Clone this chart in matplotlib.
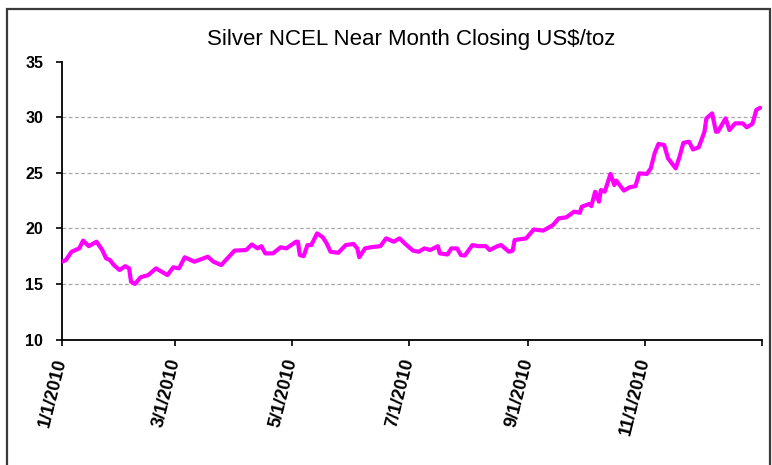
import matplotlib
matplotlib.use("Agg")
import matplotlib.pyplot as plt
import matplotlib.dates as mdates
from matplotlib.patches import Rectangle
import numpy as np

title = "Silver NCEL Near Month Closing US$/toz"

dates = [
    "2010-01-01", "2010-01-03", "2010-01-06", "2010-01-10", "2010-01-12", "2010-01-15",
    "2010-01-17", "2010-01-19", "2010-01-22", "2010-01-24", "2010-01-26", "2010-01-28",
    "2010-01-31", "2010-02-03", "2010-02-05", "2010-02-06", "2010-02-08", "2010-02-11",
    "2010-02-15", "2010-02-19", "2010-02-25", "2010-02-28", "2010-03-03", "2010-03-06",
    "2010-03-11", "2010-03-18", "2010-03-21", "2010-03-25", "2010-04-01", "2010-04-07",
    "2010-04-10", "2010-04-13", "2010-04-15", "2010-04-17", "2010-04-21", "2010-04-25",
    "2010-04-28", "2010-05-03", "2010-05-04", "2010-05-05", "2010-05-07", "2010-05-09",
    "2010-05-11", "2010-05-14", "2010-05-17", "2010-05-19", "2010-05-21", "2010-05-25",
    "2010-05-29", "2010-06-02", "2010-06-04", "2010-06-05", "2010-06-08", "2010-06-11",
    "2010-06-16", "2010-06-19", "2010-06-23", "2010-06-26", "2010-06-29", "2010-07-03",
    "2010-07-06", "2010-07-09", "2010-07-12", "2010-07-16", "2010-07-17", "2010-07-21",
    "2010-07-23", "2010-07-26", "2010-07-28", "2010-07-30", "2010-08-03", "2010-08-06",
    "2010-08-10", "2010-08-12", "2010-08-16", "2010-08-18", "2010-08-22", "2010-08-24",
    "2010-08-25", "2010-08-31", "2010-09-04", "2010-09-09", "2010-09-14", "2010-09-17",
    "2010-09-21", "2010-09-25", "2010-09-28", "2010-09-29", "2010-10-03", "2010-10-04",
    "2010-10-06", "2010-10-08", "2010-10-09", "2010-10-11", "2010-10-14", "2010-10-16",
    "2010-10-17", "2010-10-21", "2010-10-24", "2010-10-27", "2010-10-29", "2010-11-02",
    "2010-11-04", "2010-11-06", "2010-11-08", "2010-11-11", "2010-11-13", "2010-11-17",
    "2010-11-19", "2010-11-21", "2010-11-24", "2010-11-26", "2010-11-29", "2010-12-02",
    "2010-12-03", "2010-12-06", "2010-12-08", "2010-12-09", "2010-12-13", "2010-12-15",
    "2010-12-18", "2010-12-22", "2010-12-24", "2010-12-27", "2010-12-29", "2010-12-31",
]

closing = [
    17.0, 17.15, 17.9, 18.2, 18.9, 18.4,
    18.6, 18.8, 18.05, 17.3, 17.15, 16.7,
    16.25, 16.6, 16.4, 15.2, 15.0, 15.6,
    15.8, 16.4, 15.8, 16.5, 16.4, 17.4,
    17.0, 17.45, 17.0, 16.7, 18.0, 18.05,
    18.55, 18.2, 18.4, 17.75, 17.75, 18.3,
    18.2, 18.8, 18.8, 17.6, 17.5, 18.5,
    18.5, 19.55, 19.2, 18.65, 17.9, 17.8,
    18.5, 18.6, 18.2, 17.4, 18.2, 18.3,
    18.4, 19.1, 18.8, 19.1, 18.6, 18.0,
    17.9, 18.2, 18.05, 18.4, 17.75, 17.65,
    18.2, 18.2, 17.6, 17.55, 18.5, 18.4,
    18.4, 18.05, 18.4, 18.5, 17.9, 18.0,
    18.95, 19.1, 19.9, 19.8, 20.3, 20.9,
    21.0, 21.5, 21.4, 21.95, 22.2, 22.0,
    23.3, 22.4, 23.45, 23.3, 24.9, 23.9,
    24.3, 23.4, 23.7, 23.8, 24.95, 24.9,
    25.4, 26.75, 27.6, 27.5, 26.3, 25.4,
    26.45, 27.7, 27.8, 27.1, 27.3, 28.7,
    29.9, 30.35, 28.7, 28.7, 29.9, 28.85,
    29.45, 29.45, 29.1, 29.4, 30.65, 30.85,
]

tick_dates = ["2010-01-01", "2010-03-01", "2010-05-01", "2010-07-01",
              "2010-09-01", "2010-11-01", "2011-01-01"]
tick_labels = ["1/1/2010", "3/1/2010", "5/1/2010", "7/1/2010",
               "9/1/2010", "11/1/2010", ""]
y_ticks = [10, 15, 20, 25, 30, 35]

plt.rcParams['font.family'] = ['Liberation Sans', 'DejaVu Sans']

W, H = 772, 465
fig = plt.figure(figsize=(W / 100, H / 100), dpi=100)
fig.patch.set_facecolor("white")

# outer chart frame
fig.patches.append(Rectangle((7 / W, -0.05), (770 - 7) / W, (H - 9) / H + 0.05,
                             transform=fig.transFigure, fill=False,
                             edgecolor="#3a3a3a", linewidth=1.6))

ax = fig.add_axes([62 / W, (H - 339.5) / H, 700 / W, (339.5 - 61.7) / H])

x = mdates.datestr2num(dates)
ax.plot(x, closing, color="#FF00FF", linewidth=3.0, solid_joinstyle="round",
        solid_capstyle="round", zorder=3)

ax.set_xlim(mdates.datestr2num("2010-01-01"), mdates.datestr2num("2011-01-01"))
ax.set_ylim(10, 35)
ax.set_yticks(y_ticks)
ax.set_yticklabels([str(v) for v in y_ticks], fontsize=11.5, fontweight="bold")

ax.set_xticks(mdates.datestr2num(tick_dates))
ax.set_xticklabels(tick_labels, fontsize=13, fontweight="bold",
                   rotation=76, ha="right", va="center", rotation_mode="anchor")

for v in [15, 20, 25, 30]:
    ax.axhline(v, color="#a8a8a8", linewidth=0.9, linestyle=(0, (3, 2)), zorder=1)

for s in ["top", "right"]:
    ax.spines[s].set_visible(False)
for s in ["left", "bottom"]:
    ax.spines[s].set_linewidth(1.3)
    ax.spines[s].set_color("black")

ax.tick_params(axis="y", direction="out", length=4.5, width=1.2, pad=9)
ax.tick_params(axis="x", direction="out", length=4.5, width=1.2, pad=9)

fig.text(411 / W, (H - 40) / H, title, fontsize=16, ha="center", va="center")

fig.savefig("out.png", dpi=100, facecolor="white")
